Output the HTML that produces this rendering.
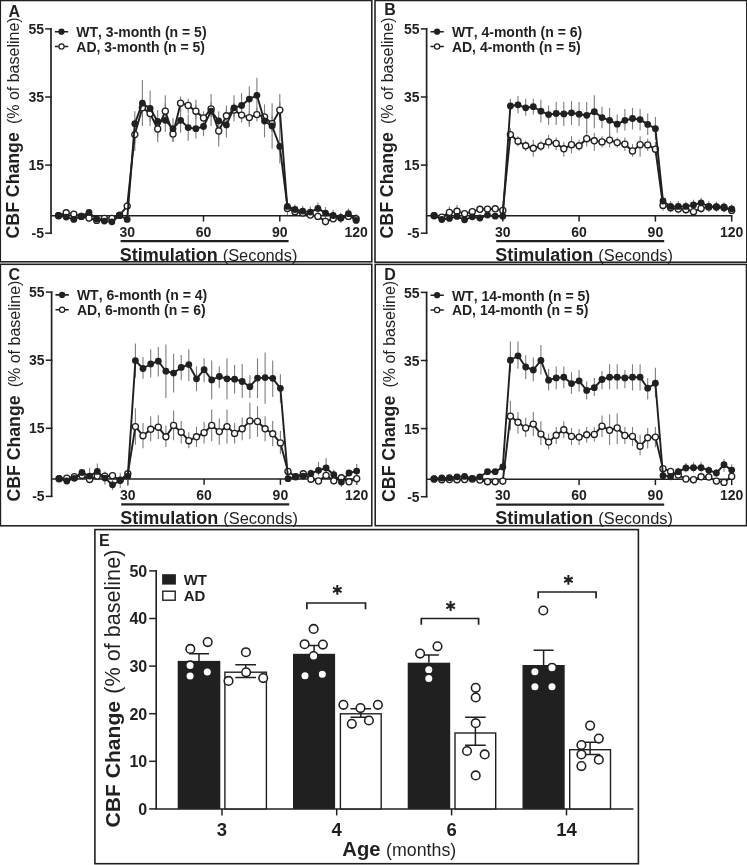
<!DOCTYPE html>
<html><head><meta charset="utf-8"><title>Figure</title>
<style>
html,body{margin:0;padding:0;background:#fff;}
body{width:747px;height:865px;overflow:hidden;}
svg{display:block;font-family:"Liberation Sans",sans-serif;fill:#231f20;font-kerning:none;filter:grayscale(1);}
</style></head><body>
<svg width="747" height="865" viewBox="0 0 747 865">
<rect width="747" height="865" fill="#fff"/>
<g transform="translate(0,0)">
<rect x="0.3" y="0.5" width="371.5" height="261.3" fill="#fff" stroke="#231f20" stroke-width="1.55"/>
<text x="8.5" y="17" font-size="16" font-weight="bold">A</text>
<text transform="translate(19.2,238.4) rotate(-90)" font-size="17.7" font-weight="bold">CBF Change</text>
<text transform="translate(19.2,124.1) rotate(-90)" font-size="16">(% of baseline)</text>
<path d="M51 28.3V233.9" stroke="#231f20" stroke-width="1.7" fill="none"/>
<path d="M45.2 28.9H51.8" stroke="#231f20" stroke-width="1.5"/>
<text x="44" y="34.0" font-size="14" font-weight="bold" text-anchor="end">55</text>
<path d="M45.2 97.0H51.8" stroke="#231f20" stroke-width="1.5"/>
<text x="44" y="102.1" font-size="14" font-weight="bold" text-anchor="end">35</text>
<path d="M45.2 165.1H51.8" stroke="#231f20" stroke-width="1.5"/>
<text x="44" y="170.2" font-size="14" font-weight="bold" text-anchor="end">15</text>
<path d="M45.2 233.2H51.8" stroke="#231f20" stroke-width="1.5"/>
<text x="44" y="238.3" font-size="14" font-weight="bold" text-anchor="end">-5</text>
<path d="M51 215.8H356.9" stroke="#231f20" stroke-width="1.6"/>
<path d="M127.2 215.8V221.6" stroke="#231f20" stroke-width="1.5"/>
<text x="127.2" y="236.5" font-size="14" font-weight="bold" text-anchor="middle">30</text>
<path d="M203.5 215.8V221.6" stroke="#231f20" stroke-width="1.5"/>
<text x="203.5" y="236.5" font-size="14" font-weight="bold" text-anchor="middle">60</text>
<path d="M279.8 215.8V221.6" stroke="#231f20" stroke-width="1.5"/>
<text x="279.8" y="236.5" font-size="14" font-weight="bold" text-anchor="middle">90</text>
<path d="M356.1 215.8V221.6" stroke="#231f20" stroke-width="1.5"/>
<text x="356.1" y="236.5" font-size="14" font-weight="bold" text-anchor="middle">120</text>
<path d="M120.6 241.2H288.6" stroke="#231f20" stroke-width="2.2"/>
<text x="119.7" y="260.5" font-size="16.4"><tspan font-weight="bold" font-size="18">Stimulation </tspan>(Seconds)</text>
<path d="M134.8 111.2V151.0" stroke="#7d7d7d" stroke-width="1.1"/>
<path d="M142.4 80.0V126.0" stroke="#7d7d7d" stroke-width="1.1"/>
<path d="M150.1 90.7V126.0" stroke="#7d7d7d" stroke-width="1.1"/>
<path d="M157.7 110.1V141.9" stroke="#7d7d7d" stroke-width="1.1"/>
<path d="M165.3 95.3V131.7" stroke="#7d7d7d" stroke-width="1.1"/>
<path d="M173.0 118.0V141.9" stroke="#7d7d7d" stroke-width="1.1"/>
<path d="M180.6 108.9V132.8" stroke="#7d7d7d" stroke-width="1.1"/>
<path d="M188.2 114.6V140.8" stroke="#7d7d7d" stroke-width="1.1"/>
<path d="M195.9 99.8V138.5" stroke="#7d7d7d" stroke-width="1.1"/>
<path d="M203.5 113.5V136.2" stroke="#7d7d7d" stroke-width="1.1"/>
<path d="M211.1 94.1V126.0" stroke="#7d7d7d" stroke-width="1.1"/>
<path d="M218.7 111.2V146.5" stroke="#7d7d7d" stroke-width="1.1"/>
<path d="M226.4 105.5V137.4" stroke="#7d7d7d" stroke-width="1.1"/>
<path d="M234.0 95.3V121.4" stroke="#7d7d7d" stroke-width="1.1"/>
<path d="M241.6 93.0V119.2" stroke="#7d7d7d" stroke-width="1.1"/>
<path d="M249.3 86.2V127.1" stroke="#7d7d7d" stroke-width="1.1"/>
<path d="M256.9 77.8V113.5" stroke="#7d7d7d" stroke-width="1.1"/>
<path d="M264.5 104.4V137.4" stroke="#7d7d7d" stroke-width="1.1"/>
<path d="M272.1 103.2V148.8" stroke="#7d7d7d" stroke-width="1.1"/>
<path d="M279.8 94.1V163.6" stroke="#7d7d7d" stroke-width="1.1"/>
<path d="M134.8 126.0V144.2" stroke="#7d7d7d" stroke-width="1.1"/>
<path d="M142.4 98.7V116.9" stroke="#7d7d7d" stroke-width="1.1"/>
<path d="M150.1 105.5V121.4" stroke="#7d7d7d" stroke-width="1.1"/>
<path d="M157.7 121.4V137.4" stroke="#7d7d7d" stroke-width="1.1"/>
<path d="M165.3 103.2V119.2" stroke="#7d7d7d" stroke-width="1.1"/>
<path d="M173.0 126.0V141.9" stroke="#7d7d7d" stroke-width="1.1"/>
<path d="M180.6 96.4V111.2" stroke="#7d7d7d" stroke-width="1.1"/>
<path d="M188.2 98.7V113.5" stroke="#7d7d7d" stroke-width="1.1"/>
<path d="M195.9 104.4V119.2" stroke="#7d7d7d" stroke-width="1.1"/>
<path d="M203.5 111.2V126.0" stroke="#7d7d7d" stroke-width="1.1"/>
<path d="M211.1 102.1V116.9" stroke="#7d7d7d" stroke-width="1.1"/>
<path d="M218.7 122.6V139.7" stroke="#7d7d7d" stroke-width="1.1"/>
<path d="M226.4 108.9V123.7" stroke="#7d7d7d" stroke-width="1.1"/>
<path d="M234.0 103.2V116.9" stroke="#7d7d7d" stroke-width="1.1"/>
<path d="M241.6 107.8V122.6" stroke="#7d7d7d" stroke-width="1.1"/>
<path d="M249.3 111.2V124.9" stroke="#7d7d7d" stroke-width="1.1"/>
<path d="M256.9 107.8V121.4" stroke="#7d7d7d" stroke-width="1.1"/>
<path d="M264.5 110.1V124.9" stroke="#7d7d7d" stroke-width="1.1"/>
<path d="M272.1 115.8V131.7" stroke="#7d7d7d" stroke-width="1.1"/>
<path d="M279.8 102.1V119.2" stroke="#7d7d7d" stroke-width="1.1"/>
<path d="M287.4 203.0V215.1" stroke="#7d7d7d" stroke-width="1.1"/>
<path d="M295.0 204.4V215.1" stroke="#7d7d7d" stroke-width="1.1"/>
<path d="M302.7 205.7V217.1" stroke="#7d7d7d" stroke-width="1.1"/>
<path d="M310.3 206.4V217.8" stroke="#7d7d7d" stroke-width="1.1"/>
<path d="M317.9 202.4V213.7" stroke="#7d7d7d" stroke-width="1.1"/>
<path d="M325.5 207.0V225.8" stroke="#7d7d7d" stroke-width="1.1"/>
<path d="M333.2 209.7V221.8" stroke="#7d7d7d" stroke-width="1.1"/>
<path d="M340.8 212.4V223.1" stroke="#7d7d7d" stroke-width="1.1"/>
<path d="M348.4 208.4V219.1" stroke="#7d7d7d" stroke-width="1.1"/>
<path d="M356.1 213.7V223.8" stroke="#7d7d7d" stroke-width="1.1"/>
<polyline points="58.5,215.7 66.2,212.8 73.8,214.1 81.4,216.4 89.0,218.0 96.7,220.4 104.3,218.4 111.9,218.4 119.6,215.1 127.2,206.1 134.8,134.6 142.4,107.8 150.1,113.5 157.7,129.0 165.3,111.2 173.0,134.0 180.6,103.2 188.2,105.5 195.9,111.2 203.5,118.0 211.1,108.9 218.7,131.0 226.4,115.8 234.0,110.1 241.6,115.1 249.3,117.6 256.9,114.6 264.5,116.9 272.1,123.7 279.8,110.1 287.4,208.4 295.0,211.7 302.7,213.1 310.3,215.1 317.9,216.4 325.5,221.5 333.2,218.8 340.8,217.8 348.4,216.4 356.1,218.8" fill="none" stroke="#231f20" stroke-width="1.9" stroke-linejoin="round"/>
<circle cx="58.5" cy="215.7" r="3.05" fill="#fff" stroke="#231f20" stroke-width="1.3"/>
<circle cx="66.2" cy="212.8" r="3.05" fill="#fff" stroke="#231f20" stroke-width="1.3"/>
<circle cx="73.8" cy="214.1" r="3.05" fill="#fff" stroke="#231f20" stroke-width="1.3"/>
<circle cx="81.4" cy="216.4" r="3.05" fill="#fff" stroke="#231f20" stroke-width="1.3"/>
<circle cx="89.0" cy="218.0" r="3.05" fill="#fff" stroke="#231f20" stroke-width="1.3"/>
<circle cx="96.7" cy="220.4" r="3.05" fill="#fff" stroke="#231f20" stroke-width="1.3"/>
<circle cx="104.3" cy="218.4" r="3.05" fill="#fff" stroke="#231f20" stroke-width="1.3"/>
<circle cx="111.9" cy="218.4" r="3.05" fill="#fff" stroke="#231f20" stroke-width="1.3"/>
<circle cx="119.6" cy="215.1" r="3.05" fill="#fff" stroke="#231f20" stroke-width="1.3"/>
<circle cx="127.2" cy="206.1" r="3.05" fill="#fff" stroke="#231f20" stroke-width="1.3"/>
<circle cx="134.8" cy="134.6" r="3.05" fill="#fff" stroke="#231f20" stroke-width="1.3"/>
<circle cx="142.4" cy="107.8" r="3.05" fill="#fff" stroke="#231f20" stroke-width="1.3"/>
<circle cx="150.1" cy="113.5" r="3.05" fill="#fff" stroke="#231f20" stroke-width="1.3"/>
<circle cx="157.7" cy="129.0" r="3.05" fill="#fff" stroke="#231f20" stroke-width="1.3"/>
<circle cx="165.3" cy="111.2" r="3.05" fill="#fff" stroke="#231f20" stroke-width="1.3"/>
<circle cx="173.0" cy="134.0" r="3.05" fill="#fff" stroke="#231f20" stroke-width="1.3"/>
<circle cx="180.6" cy="103.2" r="3.05" fill="#fff" stroke="#231f20" stroke-width="1.3"/>
<circle cx="188.2" cy="105.5" r="3.05" fill="#fff" stroke="#231f20" stroke-width="1.3"/>
<circle cx="195.9" cy="111.2" r="3.05" fill="#fff" stroke="#231f20" stroke-width="1.3"/>
<circle cx="203.5" cy="118.0" r="3.05" fill="#fff" stroke="#231f20" stroke-width="1.3"/>
<circle cx="211.1" cy="108.9" r="3.05" fill="#fff" stroke="#231f20" stroke-width="1.3"/>
<circle cx="218.7" cy="131.0" r="3.05" fill="#fff" stroke="#231f20" stroke-width="1.3"/>
<circle cx="226.4" cy="115.8" r="3.05" fill="#fff" stroke="#231f20" stroke-width="1.3"/>
<circle cx="234.0" cy="110.1" r="3.05" fill="#fff" stroke="#231f20" stroke-width="1.3"/>
<circle cx="241.6" cy="115.1" r="3.05" fill="#fff" stroke="#231f20" stroke-width="1.3"/>
<circle cx="249.3" cy="117.6" r="3.05" fill="#fff" stroke="#231f20" stroke-width="1.3"/>
<circle cx="256.9" cy="114.6" r="3.05" fill="#fff" stroke="#231f20" stroke-width="1.3"/>
<circle cx="264.5" cy="116.9" r="3.05" fill="#fff" stroke="#231f20" stroke-width="1.3"/>
<circle cx="272.1" cy="123.7" r="3.05" fill="#fff" stroke="#231f20" stroke-width="1.3"/>
<circle cx="279.8" cy="110.1" r="3.05" fill="#fff" stroke="#231f20" stroke-width="1.3"/>
<circle cx="287.4" cy="208.4" r="3.05" fill="#fff" stroke="#231f20" stroke-width="1.3"/>
<circle cx="295.0" cy="211.7" r="3.05" fill="#fff" stroke="#231f20" stroke-width="1.3"/>
<circle cx="302.7" cy="213.1" r="3.05" fill="#fff" stroke="#231f20" stroke-width="1.3"/>
<circle cx="310.3" cy="215.1" r="3.05" fill="#fff" stroke="#231f20" stroke-width="1.3"/>
<circle cx="317.9" cy="216.4" r="3.05" fill="#fff" stroke="#231f20" stroke-width="1.3"/>
<circle cx="325.5" cy="221.5" r="3.05" fill="#fff" stroke="#231f20" stroke-width="1.3"/>
<circle cx="333.2" cy="218.8" r="3.05" fill="#fff" stroke="#231f20" stroke-width="1.3"/>
<circle cx="340.8" cy="217.8" r="3.05" fill="#fff" stroke="#231f20" stroke-width="1.3"/>
<circle cx="348.4" cy="216.4" r="3.05" fill="#fff" stroke="#231f20" stroke-width="1.3"/>
<circle cx="356.1" cy="218.8" r="3.05" fill="#fff" stroke="#231f20" stroke-width="1.3"/>
<polyline points="58.5,215.5 66.2,217.1 73.8,219.4 81.4,216.2 89.0,212.4 96.7,219.1 104.3,221.1 111.9,221.8 119.6,215.7 127.2,219.4 134.8,123.7 142.4,103.2 150.1,108.5 157.7,121.4 165.3,120.3 173.0,128.7 180.6,120.3 188.2,127.6 195.9,128.7 203.5,126.5 211.1,111.2 218.7,120.8 226.4,124.9 234.0,107.8 241.6,105.5 249.3,99.1 256.9,95.3 264.5,121.0 272.1,126.0 279.8,146.5 287.4,206.4 295.0,209.5 302.7,211.1 310.3,212.1 317.9,208.4 325.5,213.1 333.2,215.5 340.8,218.0 348.4,213.7 356.1,220.4" fill="none" stroke="#231f20" stroke-width="1.9" stroke-linejoin="round"/>
<circle cx="58.5" cy="215.5" r="3.4" fill="#231f20"/>
<circle cx="66.2" cy="217.1" r="3.4" fill="#231f20"/>
<circle cx="73.8" cy="219.4" r="3.4" fill="#231f20"/>
<circle cx="81.4" cy="216.2" r="3.4" fill="#231f20"/>
<circle cx="89.0" cy="212.4" r="3.4" fill="#231f20"/>
<circle cx="96.7" cy="219.1" r="3.4" fill="#231f20"/>
<circle cx="104.3" cy="221.1" r="3.4" fill="#231f20"/>
<circle cx="111.9" cy="221.8" r="3.4" fill="#231f20"/>
<circle cx="119.6" cy="215.7" r="3.4" fill="#231f20"/>
<circle cx="127.2" cy="219.4" r="3.4" fill="#231f20"/>
<circle cx="134.8" cy="123.7" r="3.4" fill="#231f20"/>
<circle cx="142.4" cy="103.2" r="3.4" fill="#231f20"/>
<circle cx="150.1" cy="108.5" r="3.4" fill="#231f20"/>
<circle cx="157.7" cy="121.4" r="3.4" fill="#231f20"/>
<circle cx="165.3" cy="120.3" r="3.4" fill="#231f20"/>
<circle cx="173.0" cy="128.7" r="3.4" fill="#231f20"/>
<circle cx="180.6" cy="120.3" r="3.4" fill="#231f20"/>
<circle cx="188.2" cy="127.6" r="3.4" fill="#231f20"/>
<circle cx="195.9" cy="128.7" r="3.4" fill="#231f20"/>
<circle cx="203.5" cy="126.5" r="3.4" fill="#231f20"/>
<circle cx="211.1" cy="111.2" r="3.4" fill="#231f20"/>
<circle cx="218.7" cy="120.8" r="3.4" fill="#231f20"/>
<circle cx="226.4" cy="124.9" r="3.4" fill="#231f20"/>
<circle cx="234.0" cy="107.8" r="3.4" fill="#231f20"/>
<circle cx="241.6" cy="105.5" r="3.4" fill="#231f20"/>
<circle cx="249.3" cy="99.1" r="3.4" fill="#231f20"/>
<circle cx="256.9" cy="95.3" r="3.4" fill="#231f20"/>
<circle cx="264.5" cy="121.0" r="3.4" fill="#231f20"/>
<circle cx="272.1" cy="126.0" r="3.4" fill="#231f20"/>
<circle cx="279.8" cy="146.5" r="3.4" fill="#231f20"/>
<circle cx="287.4" cy="206.4" r="3.4" fill="#231f20"/>
<circle cx="295.0" cy="209.5" r="3.4" fill="#231f20"/>
<circle cx="302.7" cy="211.1" r="3.4" fill="#231f20"/>
<circle cx="310.3" cy="212.1" r="3.4" fill="#231f20"/>
<circle cx="317.9" cy="208.4" r="3.4" fill="#231f20"/>
<circle cx="325.5" cy="213.1" r="3.4" fill="#231f20"/>
<circle cx="333.2" cy="215.5" r="3.4" fill="#231f20"/>
<circle cx="340.8" cy="218.0" r="3.4" fill="#231f20"/>
<circle cx="348.4" cy="213.7" r="3.4" fill="#231f20"/>
<circle cx="356.1" cy="220.4" r="3.4" fill="#231f20"/>
<path d="M54.9 31.7H68.2M54.9 46.5H68.2" stroke="#231f20" stroke-width="1.6"/>
<circle cx="61.5" cy="31.7" r="3.1" fill="#231f20"/>
<circle cx="61.5" cy="46.5" r="2.6" fill="#fff" stroke="#231f20" stroke-width="1.2"/>
<text x="76.3" y="37.3" font-size="14" font-weight="bold">WT, 3-month (n = 5)</text>
<text x="76.3" y="51.6" font-size="14" font-weight="bold">AD, 3-month (n = 5)</text>
</g>
<g transform="translate(375.6,0)">
<rect x="-0.6" y="0.5" width="371.8" height="261.7" fill="#fff" stroke="#231f20" stroke-width="1.55"/>
<text x="8.6" y="15.4" font-size="16" font-weight="bold">B</text>
<text transform="translate(17.599999999999998,238.4) rotate(-90)" font-size="17.7" font-weight="bold">CBF Change</text>
<text transform="translate(17.599999999999998,124.1) rotate(-90)" font-size="16">(% of baseline)</text>
<path d="M51 28.3V233.9" stroke="#231f20" stroke-width="1.7" fill="none"/>
<path d="M45.2 28.9H51.8" stroke="#231f20" stroke-width="1.5"/>
<text x="44" y="34.0" font-size="14" font-weight="bold" text-anchor="end">55</text>
<path d="M45.2 97.0H51.8" stroke="#231f20" stroke-width="1.5"/>
<text x="44" y="102.1" font-size="14" font-weight="bold" text-anchor="end">35</text>
<path d="M45.2 165.1H51.8" stroke="#231f20" stroke-width="1.5"/>
<text x="44" y="170.2" font-size="14" font-weight="bold" text-anchor="end">15</text>
<path d="M45.2 233.2H51.8" stroke="#231f20" stroke-width="1.5"/>
<text x="44" y="238.3" font-size="14" font-weight="bold" text-anchor="end">-5</text>
<path d="M51 215.8H356.9" stroke="#231f20" stroke-width="1.6"/>
<path d="M127.2 215.8V221.6" stroke="#231f20" stroke-width="1.5"/>
<text x="127.2" y="236.5" font-size="14" font-weight="bold" text-anchor="middle">30</text>
<path d="M203.5 215.8V221.6" stroke="#231f20" stroke-width="1.5"/>
<text x="203.5" y="236.5" font-size="14" font-weight="bold" text-anchor="middle">60</text>
<path d="M279.8 215.8V221.6" stroke="#231f20" stroke-width="1.5"/>
<text x="279.8" y="236.5" font-size="14" font-weight="bold" text-anchor="middle">90</text>
<path d="M356.1 215.8V221.6" stroke="#231f20" stroke-width="1.5"/>
<text x="356.1" y="236.5" font-size="14" font-weight="bold" text-anchor="middle">120</text>
<path d="M120.6 241.2H288.6" stroke="#231f20" stroke-width="2.2"/>
<text x="119.7" y="260.5" font-size="16.4"><tspan font-weight="bold" font-size="18">Stimulation </tspan>(Seconds)</text>
<path d="M134.8 98.7V113.5" stroke="#7d7d7d" stroke-width="1.1"/>
<path d="M142.4 96.0V113.5" stroke="#7d7d7d" stroke-width="1.1"/>
<path d="M150.1 98.7V115.8" stroke="#7d7d7d" stroke-width="1.1"/>
<path d="M157.7 98.7V114.6" stroke="#7d7d7d" stroke-width="1.1"/>
<path d="M165.3 99.8V122.6" stroke="#7d7d7d" stroke-width="1.1"/>
<path d="M173.0 105.5V124.9" stroke="#7d7d7d" stroke-width="1.1"/>
<path d="M180.6 102.1V124.9" stroke="#7d7d7d" stroke-width="1.1"/>
<path d="M188.2 102.1V126.0" stroke="#7d7d7d" stroke-width="1.1"/>
<path d="M195.9 101.0V124.9" stroke="#7d7d7d" stroke-width="1.1"/>
<path d="M203.5 102.1V126.0" stroke="#7d7d7d" stroke-width="1.1"/>
<path d="M211.1 102.1V132.8" stroke="#7d7d7d" stroke-width="1.1"/>
<path d="M218.7 95.3V128.3" stroke="#7d7d7d" stroke-width="1.1"/>
<path d="M226.4 106.7V128.3" stroke="#7d7d7d" stroke-width="1.1"/>
<path d="M234.0 107.8V137.4" stroke="#7d7d7d" stroke-width="1.1"/>
<path d="M241.6 114.6V132.8" stroke="#7d7d7d" stroke-width="1.1"/>
<path d="M249.3 108.9V130.6" stroke="#7d7d7d" stroke-width="1.1"/>
<path d="M256.9 107.8V129.4" stroke="#7d7d7d" stroke-width="1.1"/>
<path d="M264.5 108.9V130.6" stroke="#7d7d7d" stroke-width="1.1"/>
<path d="M272.1 113.5V135.1" stroke="#7d7d7d" stroke-width="1.1"/>
<path d="M279.8 116.9V139.7" stroke="#7d7d7d" stroke-width="1.1"/>
<path d="M134.8 128.3V140.8" stroke="#7d7d7d" stroke-width="1.1"/>
<path d="M142.4 136.2V146.5" stroke="#7d7d7d" stroke-width="1.1"/>
<path d="M150.1 140.8V151.0" stroke="#7d7d7d" stroke-width="1.1"/>
<path d="M157.7 139.7V156.7" stroke="#7d7d7d" stroke-width="1.1"/>
<path d="M165.3 140.8V151.0" stroke="#7d7d7d" stroke-width="1.1"/>
<path d="M173.0 135.1V148.8" stroke="#7d7d7d" stroke-width="1.1"/>
<path d="M180.6 137.4V149.9" stroke="#7d7d7d" stroke-width="1.1"/>
<path d="M188.2 141.9V156.7" stroke="#7d7d7d" stroke-width="1.1"/>
<path d="M195.9 136.2V153.3" stroke="#7d7d7d" stroke-width="1.1"/>
<path d="M203.5 139.7V151.0" stroke="#7d7d7d" stroke-width="1.1"/>
<path d="M211.1 130.6V146.5" stroke="#7d7d7d" stroke-width="1.1"/>
<path d="M218.7 132.8V151.0" stroke="#7d7d7d" stroke-width="1.1"/>
<path d="M226.4 136.2V147.6" stroke="#7d7d7d" stroke-width="1.1"/>
<path d="M234.0 132.8V147.6" stroke="#7d7d7d" stroke-width="1.1"/>
<path d="M241.6 137.4V147.6" stroke="#7d7d7d" stroke-width="1.1"/>
<path d="M249.3 137.4V151.0" stroke="#7d7d7d" stroke-width="1.1"/>
<path d="M256.9 144.2V156.7" stroke="#7d7d7d" stroke-width="1.1"/>
<path d="M264.5 136.2V156.7" stroke="#7d7d7d" stroke-width="1.1"/>
<path d="M272.1 138.5V151.0" stroke="#7d7d7d" stroke-width="1.1"/>
<path d="M279.8 141.9V155.6" stroke="#7d7d7d" stroke-width="1.1"/>
<path d="M287.4 197.7V211.1" stroke="#7d7d7d" stroke-width="1.1"/>
<path d="M295.0 201.0V212.4" stroke="#7d7d7d" stroke-width="1.1"/>
<path d="M302.7 201.0V213.7" stroke="#7d7d7d" stroke-width="1.1"/>
<path d="M310.3 201.7V213.7" stroke="#7d7d7d" stroke-width="1.1"/>
<path d="M317.9 199.7V215.1" stroke="#7d7d7d" stroke-width="1.1"/>
<path d="M325.5 197.7V213.1" stroke="#7d7d7d" stroke-width="1.1"/>
<path d="M333.2 201.0V211.7" stroke="#7d7d7d" stroke-width="1.1"/>
<path d="M340.8 201.7V211.7" stroke="#7d7d7d" stroke-width="1.1"/>
<path d="M348.4 202.4V212.4" stroke="#7d7d7d" stroke-width="1.1"/>
<path d="M356.1 204.4V213.7" stroke="#7d7d7d" stroke-width="1.1"/>
<path d="M73.8 206.4V219.8" stroke="#7d7d7d" stroke-width="1.1"/>
<path d="M81.4 205.0V217.8" stroke="#7d7d7d" stroke-width="1.1"/>
<polyline points="58.5,215.7 66.2,217.1 73.8,212.4 81.4,211.3 89.0,213.7 96.7,211.7 104.3,209.3 111.9,209.1 119.6,208.8 127.2,210.4 134.8,134.6 142.4,141.2 150.1,145.8 157.7,148.3 165.3,146.0 173.0,141.9 180.6,143.5 188.2,148.8 195.9,144.7 203.5,145.8 211.1,138.7 218.7,140.8 226.4,141.9 234.0,140.1 241.6,142.6 249.3,144.2 256.9,151.0 264.5,144.7 272.1,144.9 279.8,149.2 287.4,205.4 295.0,207.7 302.7,209.1 310.3,209.7 317.9,211.7 325.5,208.4 333.2,207.0 340.8,207.0 348.4,207.3 356.1,210.4" fill="none" stroke="#231f20" stroke-width="1.9" stroke-linejoin="round"/>
<circle cx="58.5" cy="215.7" r="3.05" fill="#fff" stroke="#231f20" stroke-width="1.3"/>
<circle cx="66.2" cy="217.1" r="3.05" fill="#fff" stroke="#231f20" stroke-width="1.3"/>
<circle cx="73.8" cy="212.4" r="3.05" fill="#fff" stroke="#231f20" stroke-width="1.3"/>
<circle cx="81.4" cy="211.3" r="3.05" fill="#fff" stroke="#231f20" stroke-width="1.3"/>
<circle cx="89.0" cy="213.7" r="3.05" fill="#fff" stroke="#231f20" stroke-width="1.3"/>
<circle cx="96.7" cy="211.7" r="3.05" fill="#fff" stroke="#231f20" stroke-width="1.3"/>
<circle cx="104.3" cy="209.3" r="3.05" fill="#fff" stroke="#231f20" stroke-width="1.3"/>
<circle cx="111.9" cy="209.1" r="3.05" fill="#fff" stroke="#231f20" stroke-width="1.3"/>
<circle cx="119.6" cy="208.8" r="3.05" fill="#fff" stroke="#231f20" stroke-width="1.3"/>
<circle cx="127.2" cy="210.4" r="3.05" fill="#fff" stroke="#231f20" stroke-width="1.3"/>
<circle cx="134.8" cy="134.6" r="3.05" fill="#fff" stroke="#231f20" stroke-width="1.3"/>
<circle cx="142.4" cy="141.2" r="3.05" fill="#fff" stroke="#231f20" stroke-width="1.3"/>
<circle cx="150.1" cy="145.8" r="3.05" fill="#fff" stroke="#231f20" stroke-width="1.3"/>
<circle cx="157.7" cy="148.3" r="3.05" fill="#fff" stroke="#231f20" stroke-width="1.3"/>
<circle cx="165.3" cy="146.0" r="3.05" fill="#fff" stroke="#231f20" stroke-width="1.3"/>
<circle cx="173.0" cy="141.9" r="3.05" fill="#fff" stroke="#231f20" stroke-width="1.3"/>
<circle cx="180.6" cy="143.5" r="3.05" fill="#fff" stroke="#231f20" stroke-width="1.3"/>
<circle cx="188.2" cy="148.8" r="3.05" fill="#fff" stroke="#231f20" stroke-width="1.3"/>
<circle cx="195.9" cy="144.7" r="3.05" fill="#fff" stroke="#231f20" stroke-width="1.3"/>
<circle cx="203.5" cy="145.8" r="3.05" fill="#fff" stroke="#231f20" stroke-width="1.3"/>
<circle cx="211.1" cy="138.7" r="3.05" fill="#fff" stroke="#231f20" stroke-width="1.3"/>
<circle cx="218.7" cy="140.8" r="3.05" fill="#fff" stroke="#231f20" stroke-width="1.3"/>
<circle cx="226.4" cy="141.9" r="3.05" fill="#fff" stroke="#231f20" stroke-width="1.3"/>
<circle cx="234.0" cy="140.1" r="3.05" fill="#fff" stroke="#231f20" stroke-width="1.3"/>
<circle cx="241.6" cy="142.6" r="3.05" fill="#fff" stroke="#231f20" stroke-width="1.3"/>
<circle cx="249.3" cy="144.2" r="3.05" fill="#fff" stroke="#231f20" stroke-width="1.3"/>
<circle cx="256.9" cy="151.0" r="3.05" fill="#fff" stroke="#231f20" stroke-width="1.3"/>
<circle cx="264.5" cy="144.7" r="3.05" fill="#fff" stroke="#231f20" stroke-width="1.3"/>
<circle cx="272.1" cy="144.9" r="3.05" fill="#fff" stroke="#231f20" stroke-width="1.3"/>
<circle cx="279.8" cy="149.2" r="3.05" fill="#fff" stroke="#231f20" stroke-width="1.3"/>
<circle cx="287.4" cy="205.4" r="3.05" fill="#fff" stroke="#231f20" stroke-width="1.3"/>
<circle cx="295.0" cy="207.7" r="3.05" fill="#fff" stroke="#231f20" stroke-width="1.3"/>
<circle cx="302.7" cy="209.1" r="3.05" fill="#fff" stroke="#231f20" stroke-width="1.3"/>
<circle cx="310.3" cy="209.7" r="3.05" fill="#fff" stroke="#231f20" stroke-width="1.3"/>
<circle cx="317.9" cy="211.7" r="3.05" fill="#fff" stroke="#231f20" stroke-width="1.3"/>
<circle cx="325.5" cy="208.4" r="3.05" fill="#fff" stroke="#231f20" stroke-width="1.3"/>
<circle cx="333.2" cy="207.0" r="3.05" fill="#fff" stroke="#231f20" stroke-width="1.3"/>
<circle cx="340.8" cy="207.0" r="3.05" fill="#fff" stroke="#231f20" stroke-width="1.3"/>
<circle cx="348.4" cy="207.3" r="3.05" fill="#fff" stroke="#231f20" stroke-width="1.3"/>
<circle cx="356.1" cy="210.4" r="3.05" fill="#fff" stroke="#231f20" stroke-width="1.3"/>
<polyline points="58.5,215.5 66.2,219.5 73.8,218.4 81.4,216.4 89.0,219.8 96.7,216.8 104.3,218.0 111.9,215.1 119.6,216.2 127.2,216.2 134.8,106.0 142.4,104.8 150.1,107.8 157.7,106.7 165.3,111.2 173.0,114.6 180.6,113.5 188.2,113.9 195.9,112.8 203.5,114.2 211.1,115.3 218.7,111.7 226.4,117.6 234.0,120.3 241.6,124.2 249.3,120.3 256.9,118.5 264.5,119.6 272.1,124.4 279.8,128.7 287.4,201.0 295.0,206.4 302.7,206.4 310.3,206.4 317.9,205.0 325.5,202.8 333.2,206.4 340.8,206.8 348.4,208.1 356.1,208.8" fill="none" stroke="#231f20" stroke-width="1.9" stroke-linejoin="round"/>
<circle cx="58.5" cy="215.5" r="3.4" fill="#231f20"/>
<circle cx="66.2" cy="219.5" r="3.4" fill="#231f20"/>
<circle cx="73.8" cy="218.4" r="3.4" fill="#231f20"/>
<circle cx="81.4" cy="216.4" r="3.4" fill="#231f20"/>
<circle cx="89.0" cy="219.8" r="3.4" fill="#231f20"/>
<circle cx="96.7" cy="216.8" r="3.4" fill="#231f20"/>
<circle cx="104.3" cy="218.0" r="3.4" fill="#231f20"/>
<circle cx="111.9" cy="215.1" r="3.4" fill="#231f20"/>
<circle cx="119.6" cy="216.2" r="3.4" fill="#231f20"/>
<circle cx="127.2" cy="216.2" r="3.4" fill="#231f20"/>
<circle cx="134.8" cy="106.0" r="3.4" fill="#231f20"/>
<circle cx="142.4" cy="104.8" r="3.4" fill="#231f20"/>
<circle cx="150.1" cy="107.8" r="3.4" fill="#231f20"/>
<circle cx="157.7" cy="106.7" r="3.4" fill="#231f20"/>
<circle cx="165.3" cy="111.2" r="3.4" fill="#231f20"/>
<circle cx="173.0" cy="114.6" r="3.4" fill="#231f20"/>
<circle cx="180.6" cy="113.5" r="3.4" fill="#231f20"/>
<circle cx="188.2" cy="113.9" r="3.4" fill="#231f20"/>
<circle cx="195.9" cy="112.8" r="3.4" fill="#231f20"/>
<circle cx="203.5" cy="114.2" r="3.4" fill="#231f20"/>
<circle cx="211.1" cy="115.3" r="3.4" fill="#231f20"/>
<circle cx="218.7" cy="111.7" r="3.4" fill="#231f20"/>
<circle cx="226.4" cy="117.6" r="3.4" fill="#231f20"/>
<circle cx="234.0" cy="120.3" r="3.4" fill="#231f20"/>
<circle cx="241.6" cy="124.2" r="3.4" fill="#231f20"/>
<circle cx="249.3" cy="120.3" r="3.4" fill="#231f20"/>
<circle cx="256.9" cy="118.5" r="3.4" fill="#231f20"/>
<circle cx="264.5" cy="119.6" r="3.4" fill="#231f20"/>
<circle cx="272.1" cy="124.4" r="3.4" fill="#231f20"/>
<circle cx="279.8" cy="128.7" r="3.4" fill="#231f20"/>
<circle cx="287.4" cy="201.0" r="3.4" fill="#231f20"/>
<circle cx="295.0" cy="206.4" r="3.4" fill="#231f20"/>
<circle cx="302.7" cy="206.4" r="3.4" fill="#231f20"/>
<circle cx="310.3" cy="206.4" r="3.4" fill="#231f20"/>
<circle cx="317.9" cy="205.0" r="3.4" fill="#231f20"/>
<circle cx="325.5" cy="202.8" r="3.4" fill="#231f20"/>
<circle cx="333.2" cy="206.4" r="3.4" fill="#231f20"/>
<circle cx="340.8" cy="206.8" r="3.4" fill="#231f20"/>
<circle cx="348.4" cy="208.1" r="3.4" fill="#231f20"/>
<circle cx="356.1" cy="208.8" r="3.4" fill="#231f20"/>
<path d="M54.9 31.7H68.2M54.9 46.5H68.2" stroke="#231f20" stroke-width="1.6"/>
<circle cx="61.5" cy="31.7" r="3.1" fill="#231f20"/>
<circle cx="61.5" cy="46.5" r="2.6" fill="#fff" stroke="#231f20" stroke-width="1.2"/>
<text x="76.3" y="37.3" font-size="14" font-weight="bold">WT, 4-month (n = 6)</text>
<text x="76.3" y="51.6" font-size="14" font-weight="bold">AD, 4-month (n = 5)</text>
</g>
<g transform="translate(0.6,263.2)">
<rect x="-0.2" y="1.1" width="371.4" height="261.5" fill="#fff" stroke="#231f20" stroke-width="1.55"/>
<text x="8" y="17" font-size="16" font-weight="bold">C</text>
<text transform="translate(18.9,238.4) rotate(-90)" font-size="17.7" font-weight="bold">CBF Change</text>
<text transform="translate(18.9,124.1) rotate(-90)" font-size="16">(% of baseline)</text>
<path d="M51 28.3V233.9" stroke="#231f20" stroke-width="1.7" fill="none"/>
<path d="M45.2 28.9H51.8" stroke="#231f20" stroke-width="1.5"/>
<text x="44" y="34.0" font-size="14" font-weight="bold" text-anchor="end">55</text>
<path d="M45.2 97.0H51.8" stroke="#231f20" stroke-width="1.5"/>
<text x="44" y="102.1" font-size="14" font-weight="bold" text-anchor="end">35</text>
<path d="M45.2 165.1H51.8" stroke="#231f20" stroke-width="1.5"/>
<text x="44" y="170.2" font-size="14" font-weight="bold" text-anchor="end">15</text>
<path d="M45.2 233.2H51.8" stroke="#231f20" stroke-width="1.5"/>
<text x="44" y="238.3" font-size="14" font-weight="bold" text-anchor="end">-5</text>
<path d="M51 215.8H356.9" stroke="#231f20" stroke-width="1.6"/>
<path d="M127.2 215.8V221.6" stroke="#231f20" stroke-width="1.5"/>
<text x="127.2" y="236.5" font-size="14" font-weight="bold" text-anchor="middle">30</text>
<path d="M203.5 215.8V221.6" stroke="#231f20" stroke-width="1.5"/>
<text x="203.5" y="236.5" font-size="14" font-weight="bold" text-anchor="middle">60</text>
<path d="M279.8 215.8V221.6" stroke="#231f20" stroke-width="1.5"/>
<text x="279.8" y="236.5" font-size="14" font-weight="bold" text-anchor="middle">90</text>
<path d="M356.1 215.8V221.6" stroke="#231f20" stroke-width="1.5"/>
<text x="356.1" y="236.5" font-size="14" font-weight="bold" text-anchor="middle">120</text>
<path d="M120.6 241.2H288.6" stroke="#231f20" stroke-width="2.2"/>
<text x="119.7" y="260.5" font-size="16.4"><tspan font-weight="bold" font-size="18">Stimulation </tspan>(Seconds)</text>
<path d="M134.8 80.3V114.4" stroke="#7d7d7d" stroke-width="1.1"/>
<path d="M142.4 93.9V115.6" stroke="#7d7d7d" stroke-width="1.1"/>
<path d="M150.1 86.0V114.4" stroke="#7d7d7d" stroke-width="1.1"/>
<path d="M157.7 83.7V113.3" stroke="#7d7d7d" stroke-width="1.1"/>
<path d="M165.3 81.4V134.9" stroke="#7d7d7d" stroke-width="1.1"/>
<path d="M173.0 90.5V129.2" stroke="#7d7d7d" stroke-width="1.1"/>
<path d="M180.6 91.7V116.7" stroke="#7d7d7d" stroke-width="1.1"/>
<path d="M188.2 86.0V117.8" stroke="#7d7d7d" stroke-width="1.1"/>
<path d="M195.9 103.0V128.1" stroke="#7d7d7d" stroke-width="1.1"/>
<path d="M203.5 95.1V119.0" stroke="#7d7d7d" stroke-width="1.1"/>
<path d="M211.1 97.4V136.0" stroke="#7d7d7d" stroke-width="1.1"/>
<path d="M218.7 103.0V124.7" stroke="#7d7d7d" stroke-width="1.1"/>
<path d="M226.4 95.1V136.0" stroke="#7d7d7d" stroke-width="1.1"/>
<path d="M234.0 101.9V130.4" stroke="#7d7d7d" stroke-width="1.1"/>
<path d="M241.6 100.8V134.9" stroke="#7d7d7d" stroke-width="1.1"/>
<path d="M249.3 112.1V134.9" stroke="#7d7d7d" stroke-width="1.1"/>
<path d="M256.9 95.1V134.9" stroke="#7d7d7d" stroke-width="1.1"/>
<path d="M264.5 89.4V140.6" stroke="#7d7d7d" stroke-width="1.1"/>
<path d="M272.1 97.4V133.8" stroke="#7d7d7d" stroke-width="1.1"/>
<path d="M279.8 111.0V139.5" stroke="#7d7d7d" stroke-width="1.1"/>
<path d="M134.8 145.1V181.6" stroke="#7d7d7d" stroke-width="1.1"/>
<path d="M142.4 159.9V185.0" stroke="#7d7d7d" stroke-width="1.1"/>
<path d="M150.1 153.1V178.1" stroke="#7d7d7d" stroke-width="1.1"/>
<path d="M157.7 152.0V175.9" stroke="#7d7d7d" stroke-width="1.1"/>
<path d="M165.3 162.2V183.8" stroke="#7d7d7d" stroke-width="1.1"/>
<path d="M173.0 147.4V177.0" stroke="#7d7d7d" stroke-width="1.1"/>
<path d="M180.6 157.7V180.4" stroke="#7d7d7d" stroke-width="1.1"/>
<path d="M188.2 169.0V185.0" stroke="#7d7d7d" stroke-width="1.1"/>
<path d="M195.9 163.4V183.8" stroke="#7d7d7d" stroke-width="1.1"/>
<path d="M203.5 158.8V180.4" stroke="#7d7d7d" stroke-width="1.1"/>
<path d="M211.1 146.3V178.1" stroke="#7d7d7d" stroke-width="1.1"/>
<path d="M218.7 155.4V181.6" stroke="#7d7d7d" stroke-width="1.1"/>
<path d="M226.4 146.3V180.4" stroke="#7d7d7d" stroke-width="1.1"/>
<path d="M234.0 159.9V180.4" stroke="#7d7d7d" stroke-width="1.1"/>
<path d="M241.6 154.2V177.0" stroke="#7d7d7d" stroke-width="1.1"/>
<path d="M249.3 139.5V175.9" stroke="#7d7d7d" stroke-width="1.1"/>
<path d="M256.9 142.9V173.6" stroke="#7d7d7d" stroke-width="1.1"/>
<path d="M264.5 153.1V178.1" stroke="#7d7d7d" stroke-width="1.1"/>
<path d="M272.1 157.7V182.7" stroke="#7d7d7d" stroke-width="1.1"/>
<path d="M279.8 167.9V190.7" stroke="#7d7d7d" stroke-width="1.1"/>
<path d="M89.0 204.8V220.2" stroke="#7d7d7d" stroke-width="1.1"/>
<path d="M96.7 200.2V216.2" stroke="#7d7d7d" stroke-width="1.1"/>
<path d="M104.3 208.2V221.6" stroke="#7d7d7d" stroke-width="1.1"/>
<path d="M111.9 214.9V226.9" stroke="#7d7d7d" stroke-width="1.1"/>
<path d="M119.6 209.5V224.9" stroke="#7d7d7d" stroke-width="1.1"/>
<path d="M127.2 208.2V222.9" stroke="#7d7d7d" stroke-width="1.1"/>
<path d="M317.9 198.8V212.2" stroke="#7d7d7d" stroke-width="1.1"/>
<path d="M325.5 194.8V209.5" stroke="#7d7d7d" stroke-width="1.1"/>
<path d="M333.2 206.2V216.9" stroke="#7d7d7d" stroke-width="1.1"/>
<path d="M340.8 213.5V223.6" stroke="#7d7d7d" stroke-width="1.1"/>
<path d="M356.1 200.8V220.9" stroke="#7d7d7d" stroke-width="1.1"/>
<path d="M310.3 206.2V214.9" stroke="#7d7d7d" stroke-width="1.1"/>
<polyline points="58.5,215.5 66.2,214.9 73.8,213.5 81.4,212.2 89.0,216.2 96.7,212.9 104.3,212.9 111.9,212.5 119.6,216.9 127.2,210.6 134.8,163.4 142.4,172.5 150.1,166.1 157.7,164.0 165.3,173.6 173.0,162.2 180.6,169.0 188.2,177.5 195.9,173.6 203.5,169.5 211.1,162.2 218.7,168.4 226.4,163.4 234.0,170.2 241.6,165.6 249.3,157.7 256.9,158.3 264.5,165.6 272.1,170.6 279.8,179.7 287.4,208.2 295.0,213.5 302.7,210.6 310.3,216.0 317.9,217.8 325.5,212.2 333.2,217.6 340.8,214.6 348.4,218.6 356.1,215.5" fill="none" stroke="#231f20" stroke-width="1.9" stroke-linejoin="round"/>
<circle cx="58.5" cy="215.5" r="3.05" fill="#fff" stroke="#231f20" stroke-width="1.3"/>
<circle cx="66.2" cy="214.9" r="3.05" fill="#fff" stroke="#231f20" stroke-width="1.3"/>
<circle cx="73.8" cy="213.5" r="3.05" fill="#fff" stroke="#231f20" stroke-width="1.3"/>
<circle cx="81.4" cy="212.2" r="3.05" fill="#fff" stroke="#231f20" stroke-width="1.3"/>
<circle cx="89.0" cy="216.2" r="3.05" fill="#fff" stroke="#231f20" stroke-width="1.3"/>
<circle cx="96.7" cy="212.9" r="3.05" fill="#fff" stroke="#231f20" stroke-width="1.3"/>
<circle cx="104.3" cy="212.9" r="3.05" fill="#fff" stroke="#231f20" stroke-width="1.3"/>
<circle cx="111.9" cy="212.5" r="3.05" fill="#fff" stroke="#231f20" stroke-width="1.3"/>
<circle cx="119.6" cy="216.9" r="3.05" fill="#fff" stroke="#231f20" stroke-width="1.3"/>
<circle cx="127.2" cy="210.6" r="3.05" fill="#fff" stroke="#231f20" stroke-width="1.3"/>
<circle cx="134.8" cy="163.4" r="3.05" fill="#fff" stroke="#231f20" stroke-width="1.3"/>
<circle cx="142.4" cy="172.5" r="3.05" fill="#fff" stroke="#231f20" stroke-width="1.3"/>
<circle cx="150.1" cy="166.1" r="3.05" fill="#fff" stroke="#231f20" stroke-width="1.3"/>
<circle cx="157.7" cy="164.0" r="3.05" fill="#fff" stroke="#231f20" stroke-width="1.3"/>
<circle cx="165.3" cy="173.6" r="3.05" fill="#fff" stroke="#231f20" stroke-width="1.3"/>
<circle cx="173.0" cy="162.2" r="3.05" fill="#fff" stroke="#231f20" stroke-width="1.3"/>
<circle cx="180.6" cy="169.0" r="3.05" fill="#fff" stroke="#231f20" stroke-width="1.3"/>
<circle cx="188.2" cy="177.5" r="3.05" fill="#fff" stroke="#231f20" stroke-width="1.3"/>
<circle cx="195.9" cy="173.6" r="3.05" fill="#fff" stroke="#231f20" stroke-width="1.3"/>
<circle cx="203.5" cy="169.5" r="3.05" fill="#fff" stroke="#231f20" stroke-width="1.3"/>
<circle cx="211.1" cy="162.2" r="3.05" fill="#fff" stroke="#231f20" stroke-width="1.3"/>
<circle cx="218.7" cy="168.4" r="3.05" fill="#fff" stroke="#231f20" stroke-width="1.3"/>
<circle cx="226.4" cy="163.4" r="3.05" fill="#fff" stroke="#231f20" stroke-width="1.3"/>
<circle cx="234.0" cy="170.2" r="3.05" fill="#fff" stroke="#231f20" stroke-width="1.3"/>
<circle cx="241.6" cy="165.6" r="3.05" fill="#fff" stroke="#231f20" stroke-width="1.3"/>
<circle cx="249.3" cy="157.7" r="3.05" fill="#fff" stroke="#231f20" stroke-width="1.3"/>
<circle cx="256.9" cy="158.3" r="3.05" fill="#fff" stroke="#231f20" stroke-width="1.3"/>
<circle cx="264.5" cy="165.6" r="3.05" fill="#fff" stroke="#231f20" stroke-width="1.3"/>
<circle cx="272.1" cy="170.6" r="3.05" fill="#fff" stroke="#231f20" stroke-width="1.3"/>
<circle cx="279.8" cy="179.7" r="3.05" fill="#fff" stroke="#231f20" stroke-width="1.3"/>
<circle cx="287.4" cy="208.2" r="3.05" fill="#fff" stroke="#231f20" stroke-width="1.3"/>
<circle cx="295.0" cy="213.5" r="3.05" fill="#fff" stroke="#231f20" stroke-width="1.3"/>
<circle cx="302.7" cy="210.6" r="3.05" fill="#fff" stroke="#231f20" stroke-width="1.3"/>
<circle cx="310.3" cy="216.0" r="3.05" fill="#fff" stroke="#231f20" stroke-width="1.3"/>
<circle cx="317.9" cy="217.8" r="3.05" fill="#fff" stroke="#231f20" stroke-width="1.3"/>
<circle cx="325.5" cy="212.2" r="3.05" fill="#fff" stroke="#231f20" stroke-width="1.3"/>
<circle cx="333.2" cy="217.6" r="3.05" fill="#fff" stroke="#231f20" stroke-width="1.3"/>
<circle cx="340.8" cy="214.6" r="3.05" fill="#fff" stroke="#231f20" stroke-width="1.3"/>
<circle cx="348.4" cy="218.6" r="3.05" fill="#fff" stroke="#231f20" stroke-width="1.3"/>
<circle cx="356.1" cy="215.5" r="3.05" fill="#fff" stroke="#231f20" stroke-width="1.3"/>
<polyline points="58.5,215.5 66.2,217.8 73.8,215.1 81.4,209.3 89.0,212.9 96.7,208.2 104.3,214.9 111.9,221.6 119.6,217.3 127.2,212.9 134.8,97.4 142.4,105.3 150.1,100.8 157.7,98.0 165.3,108.0 173.0,109.9 180.6,104.2 188.2,101.4 195.9,115.6 203.5,106.5 211.1,116.7 218.7,113.3 226.4,115.6 234.0,116.0 241.6,118.3 249.3,123.5 256.9,114.9 264.5,114.4 272.1,115.1 279.8,125.1 287.4,215.5 295.0,213.5 302.7,212.9 310.3,210.2 317.9,207.1 325.5,204.8 333.2,211.5 340.8,218.9 348.4,209.8 356.1,207.9" fill="none" stroke="#231f20" stroke-width="1.9" stroke-linejoin="round"/>
<circle cx="58.5" cy="215.5" r="3.4" fill="#231f20"/>
<circle cx="66.2" cy="217.8" r="3.4" fill="#231f20"/>
<circle cx="73.8" cy="215.1" r="3.4" fill="#231f20"/>
<circle cx="81.4" cy="209.3" r="3.4" fill="#231f20"/>
<circle cx="89.0" cy="212.9" r="3.4" fill="#231f20"/>
<circle cx="96.7" cy="208.2" r="3.4" fill="#231f20"/>
<circle cx="104.3" cy="214.9" r="3.4" fill="#231f20"/>
<circle cx="111.9" cy="221.6" r="3.4" fill="#231f20"/>
<circle cx="119.6" cy="217.3" r="3.4" fill="#231f20"/>
<circle cx="127.2" cy="212.9" r="3.4" fill="#231f20"/>
<circle cx="134.8" cy="97.4" r="3.4" fill="#231f20"/>
<circle cx="142.4" cy="105.3" r="3.4" fill="#231f20"/>
<circle cx="150.1" cy="100.8" r="3.4" fill="#231f20"/>
<circle cx="157.7" cy="98.0" r="3.4" fill="#231f20"/>
<circle cx="165.3" cy="108.0" r="3.4" fill="#231f20"/>
<circle cx="173.0" cy="109.9" r="3.4" fill="#231f20"/>
<circle cx="180.6" cy="104.2" r="3.4" fill="#231f20"/>
<circle cx="188.2" cy="101.4" r="3.4" fill="#231f20"/>
<circle cx="195.9" cy="115.6" r="3.4" fill="#231f20"/>
<circle cx="203.5" cy="106.5" r="3.4" fill="#231f20"/>
<circle cx="211.1" cy="116.7" r="3.4" fill="#231f20"/>
<circle cx="218.7" cy="113.3" r="3.4" fill="#231f20"/>
<circle cx="226.4" cy="115.6" r="3.4" fill="#231f20"/>
<circle cx="234.0" cy="116.0" r="3.4" fill="#231f20"/>
<circle cx="241.6" cy="118.3" r="3.4" fill="#231f20"/>
<circle cx="249.3" cy="123.5" r="3.4" fill="#231f20"/>
<circle cx="256.9" cy="114.9" r="3.4" fill="#231f20"/>
<circle cx="264.5" cy="114.4" r="3.4" fill="#231f20"/>
<circle cx="272.1" cy="115.1" r="3.4" fill="#231f20"/>
<circle cx="279.8" cy="125.1" r="3.4" fill="#231f20"/>
<circle cx="287.4" cy="215.5" r="3.4" fill="#231f20"/>
<circle cx="295.0" cy="213.5" r="3.4" fill="#231f20"/>
<circle cx="302.7" cy="212.9" r="3.4" fill="#231f20"/>
<circle cx="310.3" cy="210.2" r="3.4" fill="#231f20"/>
<circle cx="317.9" cy="207.1" r="3.4" fill="#231f20"/>
<circle cx="325.5" cy="204.8" r="3.4" fill="#231f20"/>
<circle cx="333.2" cy="211.5" r="3.4" fill="#231f20"/>
<circle cx="340.8" cy="218.9" r="3.4" fill="#231f20"/>
<circle cx="348.4" cy="209.8" r="3.4" fill="#231f20"/>
<circle cx="356.1" cy="207.9" r="3.4" fill="#231f20"/>
<path d="M54.9 31.7H68.2M54.9 46.5H68.2" stroke="#231f20" stroke-width="1.6"/>
<circle cx="61.5" cy="31.7" r="3.1" fill="#231f20"/>
<circle cx="61.5" cy="46.5" r="2.6" fill="#fff" stroke="#231f20" stroke-width="1.2"/>
<text x="76.3" y="37.3" font-size="14" font-weight="bold">WT, 6-month (n = 4)</text>
<text x="76.3" y="51.6" font-size="14" font-weight="bold">AD, 6-month (n = 6)</text>
</g>
<g transform="translate(375.6,263.5)">
<rect x="-0.4" y="0.9" width="371.3" height="261.3" fill="#fff" stroke="#231f20" stroke-width="1.55"/>
<text x="8.6" y="16.4" font-size="16" font-weight="bold">D</text>
<text transform="translate(19.0,238.4) rotate(-90)" font-size="17.7" font-weight="bold">CBF Change</text>
<text transform="translate(19.0,124.1) rotate(-90)" font-size="16">(% of baseline)</text>
<path d="M51 28.3V233.9" stroke="#231f20" stroke-width="1.7" fill="none"/>
<path d="M45.2 28.9H51.8" stroke="#231f20" stroke-width="1.5"/>
<text x="44" y="34.0" font-size="14" font-weight="bold" text-anchor="end">55</text>
<path d="M45.2 97.0H51.8" stroke="#231f20" stroke-width="1.5"/>
<text x="44" y="102.1" font-size="14" font-weight="bold" text-anchor="end">35</text>
<path d="M45.2 165.1H51.8" stroke="#231f20" stroke-width="1.5"/>
<text x="44" y="170.2" font-size="14" font-weight="bold" text-anchor="end">15</text>
<path d="M45.2 233.2H51.8" stroke="#231f20" stroke-width="1.5"/>
<text x="44" y="238.3" font-size="14" font-weight="bold" text-anchor="end">-5</text>
<path d="M51 215.8H356.9" stroke="#231f20" stroke-width="1.6"/>
<path d="M127.2 215.8V221.6" stroke="#231f20" stroke-width="1.5"/>
<text x="127.2" y="236.5" font-size="14" font-weight="bold" text-anchor="middle">30</text>
<path d="M203.5 215.8V221.6" stroke="#231f20" stroke-width="1.5"/>
<text x="203.5" y="236.5" font-size="14" font-weight="bold" text-anchor="middle">60</text>
<path d="M279.8 215.8V221.6" stroke="#231f20" stroke-width="1.5"/>
<text x="279.8" y="236.5" font-size="14" font-weight="bold" text-anchor="middle">90</text>
<path d="M356.1 215.8V221.6" stroke="#231f20" stroke-width="1.5"/>
<text x="356.1" y="236.5" font-size="14" font-weight="bold" text-anchor="middle">120</text>
<path d="M120.6 241.2H288.6" stroke="#231f20" stroke-width="2.2"/>
<text x="119.7" y="260.5" font-size="16.4"><tspan font-weight="bold" font-size="18">Stimulation </tspan>(Seconds)</text>
<path d="M134.8 78.0V108.7" stroke="#7d7d7d" stroke-width="1.1"/>
<path d="M142.4 78.0V105.3" stroke="#7d7d7d" stroke-width="1.1"/>
<path d="M150.1 91.7V115.6" stroke="#7d7d7d" stroke-width="1.1"/>
<path d="M157.7 93.9V117.8" stroke="#7d7d7d" stroke-width="1.1"/>
<path d="M165.3 81.4V111.0" stroke="#7d7d7d" stroke-width="1.1"/>
<path d="M173.0 105.3V126.9" stroke="#7d7d7d" stroke-width="1.1"/>
<path d="M180.6 103.0V125.8" stroke="#7d7d7d" stroke-width="1.1"/>
<path d="M188.2 103.0V124.7" stroke="#7d7d7d" stroke-width="1.1"/>
<path d="M195.9 108.7V130.4" stroke="#7d7d7d" stroke-width="1.1"/>
<path d="M203.5 106.5V128.1" stroke="#7d7d7d" stroke-width="1.1"/>
<path d="M211.1 117.8V136.0" stroke="#7d7d7d" stroke-width="1.1"/>
<path d="M218.7 114.4V132.6" stroke="#7d7d7d" stroke-width="1.1"/>
<path d="M226.4 107.6V125.8" stroke="#7d7d7d" stroke-width="1.1"/>
<path d="M234.0 100.8V125.8" stroke="#7d7d7d" stroke-width="1.1"/>
<path d="M241.6 100.8V125.8" stroke="#7d7d7d" stroke-width="1.1"/>
<path d="M249.3 106.5V124.7" stroke="#7d7d7d" stroke-width="1.1"/>
<path d="M256.9 100.8V126.9" stroke="#7d7d7d" stroke-width="1.1"/>
<path d="M264.5 100.8V126.9" stroke="#7d7d7d" stroke-width="1.1"/>
<path d="M272.1 114.4V136.0" stroke="#7d7d7d" stroke-width="1.1"/>
<path d="M279.8 104.2V133.8" stroke="#7d7d7d" stroke-width="1.1"/>
<path d="M134.8 137.2V166.8" stroke="#7d7d7d" stroke-width="1.1"/>
<path d="M142.4 148.6V170.2" stroke="#7d7d7d" stroke-width="1.1"/>
<path d="M150.1 154.2V173.6" stroke="#7d7d7d" stroke-width="1.1"/>
<path d="M157.7 148.6V172.5" stroke="#7d7d7d" stroke-width="1.1"/>
<path d="M165.3 157.7V181.6" stroke="#7d7d7d" stroke-width="1.1"/>
<path d="M173.0 170.2V186.1" stroke="#7d7d7d" stroke-width="1.1"/>
<path d="M180.6 163.4V180.4" stroke="#7d7d7d" stroke-width="1.1"/>
<path d="M188.2 157.7V174.7" stroke="#7d7d7d" stroke-width="1.1"/>
<path d="M195.9 164.5V181.6" stroke="#7d7d7d" stroke-width="1.1"/>
<path d="M203.5 165.6V181.6" stroke="#7d7d7d" stroke-width="1.1"/>
<path d="M211.1 163.4V179.3" stroke="#7d7d7d" stroke-width="1.1"/>
<path d="M218.7 163.4V178.1" stroke="#7d7d7d" stroke-width="1.1"/>
<path d="M226.4 152.0V173.6" stroke="#7d7d7d" stroke-width="1.1"/>
<path d="M234.0 150.8V181.6" stroke="#7d7d7d" stroke-width="1.1"/>
<path d="M241.6 149.7V180.4" stroke="#7d7d7d" stroke-width="1.1"/>
<path d="M249.3 163.4V180.4" stroke="#7d7d7d" stroke-width="1.1"/>
<path d="M256.9 163.4V182.7" stroke="#7d7d7d" stroke-width="1.1"/>
<path d="M264.5 171.3V191.8" stroke="#7d7d7d" stroke-width="1.1"/>
<path d="M272.1 164.5V185.0" stroke="#7d7d7d" stroke-width="1.1"/>
<path d="M279.8 163.4V183.8" stroke="#7d7d7d" stroke-width="1.1"/>
<path d="M302.7 204.2V214.9" stroke="#7d7d7d" stroke-width="1.1"/>
<path d="M310.3 199.5V208.9" stroke="#7d7d7d" stroke-width="1.1"/>
<path d="M317.9 198.8V208.9" stroke="#7d7d7d" stroke-width="1.1"/>
<path d="M325.5 198.8V208.9" stroke="#7d7d7d" stroke-width="1.1"/>
<path d="M333.2 202.8V210.9" stroke="#7d7d7d" stroke-width="1.1"/>
<path d="M340.8 205.5V212.9" stroke="#7d7d7d" stroke-width="1.1"/>
<path d="M348.4 195.5V208.2" stroke="#7d7d7d" stroke-width="1.1"/>
<path d="M356.1 200.8V212.2" stroke="#7d7d7d" stroke-width="1.1"/>
<path d="M295.0 208.2V216.9" stroke="#7d7d7d" stroke-width="1.1"/>
<polyline points="58.5,215.5 66.2,216.2 73.8,216.0 81.4,216.2 89.0,216.0 96.7,215.5 104.3,216.5 111.9,218.2 119.6,218.2 127.2,217.6 134.8,152.7 142.4,158.8 150.1,164.5 157.7,160.6 165.3,170.6 173.0,178.6 180.6,171.8 188.2,166.3 195.9,172.9 203.5,173.6 211.1,171.3 218.7,170.9 226.4,162.7 234.0,166.8 241.6,164.5 249.3,172.0 256.9,172.9 264.5,182.7 272.1,174.3 279.8,173.6 287.4,205.2 295.0,207.9 302.7,211.5 310.3,215.5 317.9,216.2 325.5,213.3 333.2,213.5 340.8,217.6 348.4,218.9 356.1,212.9" fill="none" stroke="#231f20" stroke-width="1.9" stroke-linejoin="round"/>
<circle cx="58.5" cy="215.5" r="3.05" fill="#fff" stroke="#231f20" stroke-width="1.3"/>
<circle cx="66.2" cy="216.2" r="3.05" fill="#fff" stroke="#231f20" stroke-width="1.3"/>
<circle cx="73.8" cy="216.0" r="3.05" fill="#fff" stroke="#231f20" stroke-width="1.3"/>
<circle cx="81.4" cy="216.2" r="3.05" fill="#fff" stroke="#231f20" stroke-width="1.3"/>
<circle cx="89.0" cy="216.0" r="3.05" fill="#fff" stroke="#231f20" stroke-width="1.3"/>
<circle cx="96.7" cy="215.5" r="3.05" fill="#fff" stroke="#231f20" stroke-width="1.3"/>
<circle cx="104.3" cy="216.5" r="3.05" fill="#fff" stroke="#231f20" stroke-width="1.3"/>
<circle cx="111.9" cy="218.2" r="3.05" fill="#fff" stroke="#231f20" stroke-width="1.3"/>
<circle cx="119.6" cy="218.2" r="3.05" fill="#fff" stroke="#231f20" stroke-width="1.3"/>
<circle cx="127.2" cy="217.6" r="3.05" fill="#fff" stroke="#231f20" stroke-width="1.3"/>
<circle cx="134.8" cy="152.7" r="3.05" fill="#fff" stroke="#231f20" stroke-width="1.3"/>
<circle cx="142.4" cy="158.8" r="3.05" fill="#fff" stroke="#231f20" stroke-width="1.3"/>
<circle cx="150.1" cy="164.5" r="3.05" fill="#fff" stroke="#231f20" stroke-width="1.3"/>
<circle cx="157.7" cy="160.6" r="3.05" fill="#fff" stroke="#231f20" stroke-width="1.3"/>
<circle cx="165.3" cy="170.6" r="3.05" fill="#fff" stroke="#231f20" stroke-width="1.3"/>
<circle cx="173.0" cy="178.6" r="3.05" fill="#fff" stroke="#231f20" stroke-width="1.3"/>
<circle cx="180.6" cy="171.8" r="3.05" fill="#fff" stroke="#231f20" stroke-width="1.3"/>
<circle cx="188.2" cy="166.3" r="3.05" fill="#fff" stroke="#231f20" stroke-width="1.3"/>
<circle cx="195.9" cy="172.9" r="3.05" fill="#fff" stroke="#231f20" stroke-width="1.3"/>
<circle cx="203.5" cy="173.6" r="3.05" fill="#fff" stroke="#231f20" stroke-width="1.3"/>
<circle cx="211.1" cy="171.3" r="3.05" fill="#fff" stroke="#231f20" stroke-width="1.3"/>
<circle cx="218.7" cy="170.9" r="3.05" fill="#fff" stroke="#231f20" stroke-width="1.3"/>
<circle cx="226.4" cy="162.7" r="3.05" fill="#fff" stroke="#231f20" stroke-width="1.3"/>
<circle cx="234.0" cy="166.8" r="3.05" fill="#fff" stroke="#231f20" stroke-width="1.3"/>
<circle cx="241.6" cy="164.5" r="3.05" fill="#fff" stroke="#231f20" stroke-width="1.3"/>
<circle cx="249.3" cy="172.0" r="3.05" fill="#fff" stroke="#231f20" stroke-width="1.3"/>
<circle cx="256.9" cy="172.9" r="3.05" fill="#fff" stroke="#231f20" stroke-width="1.3"/>
<circle cx="264.5" cy="182.7" r="3.05" fill="#fff" stroke="#231f20" stroke-width="1.3"/>
<circle cx="272.1" cy="174.3" r="3.05" fill="#fff" stroke="#231f20" stroke-width="1.3"/>
<circle cx="279.8" cy="173.6" r="3.05" fill="#fff" stroke="#231f20" stroke-width="1.3"/>
<circle cx="287.4" cy="205.2" r="3.05" fill="#fff" stroke="#231f20" stroke-width="1.3"/>
<circle cx="295.0" cy="207.9" r="3.05" fill="#fff" stroke="#231f20" stroke-width="1.3"/>
<circle cx="302.7" cy="211.5" r="3.05" fill="#fff" stroke="#231f20" stroke-width="1.3"/>
<circle cx="310.3" cy="215.5" r="3.05" fill="#fff" stroke="#231f20" stroke-width="1.3"/>
<circle cx="317.9" cy="216.2" r="3.05" fill="#fff" stroke="#231f20" stroke-width="1.3"/>
<circle cx="325.5" cy="213.3" r="3.05" fill="#fff" stroke="#231f20" stroke-width="1.3"/>
<circle cx="333.2" cy="213.5" r="3.05" fill="#fff" stroke="#231f20" stroke-width="1.3"/>
<circle cx="340.8" cy="217.6" r="3.05" fill="#fff" stroke="#231f20" stroke-width="1.3"/>
<circle cx="348.4" cy="218.9" r="3.05" fill="#fff" stroke="#231f20" stroke-width="1.3"/>
<circle cx="356.1" cy="212.9" r="3.05" fill="#fff" stroke="#231f20" stroke-width="1.3"/>
<polyline points="58.5,215.5 66.2,214.5 73.8,214.2 81.4,213.3 89.0,212.9 96.7,214.9 104.3,213.3 111.9,208.2 119.6,208.2 127.2,203.5 134.8,96.7 142.4,92.3 150.1,103.5 157.7,106.5 165.3,96.9 173.0,116.7 180.6,114.4 188.2,113.7 195.9,120.1 203.5,117.4 211.1,126.9 218.7,124.2 226.4,116.0 234.0,113.7 241.6,113.7 249.3,114.4 256.9,113.7 264.5,113.7 272.1,124.7 279.8,119.7 287.4,212.2 295.0,212.9 302.7,208.2 310.3,204.4 317.9,204.2 325.5,204.2 333.2,206.8 340.8,209.5 348.4,201.2 356.1,206.6" fill="none" stroke="#231f20" stroke-width="1.9" stroke-linejoin="round"/>
<circle cx="58.5" cy="215.5" r="3.4" fill="#231f20"/>
<circle cx="66.2" cy="214.5" r="3.4" fill="#231f20"/>
<circle cx="73.8" cy="214.2" r="3.4" fill="#231f20"/>
<circle cx="81.4" cy="213.3" r="3.4" fill="#231f20"/>
<circle cx="89.0" cy="212.9" r="3.4" fill="#231f20"/>
<circle cx="96.7" cy="214.9" r="3.4" fill="#231f20"/>
<circle cx="104.3" cy="213.3" r="3.4" fill="#231f20"/>
<circle cx="111.9" cy="208.2" r="3.4" fill="#231f20"/>
<circle cx="119.6" cy="208.2" r="3.4" fill="#231f20"/>
<circle cx="127.2" cy="203.5" r="3.4" fill="#231f20"/>
<circle cx="134.8" cy="96.7" r="3.4" fill="#231f20"/>
<circle cx="142.4" cy="92.3" r="3.4" fill="#231f20"/>
<circle cx="150.1" cy="103.5" r="3.4" fill="#231f20"/>
<circle cx="157.7" cy="106.5" r="3.4" fill="#231f20"/>
<circle cx="165.3" cy="96.9" r="3.4" fill="#231f20"/>
<circle cx="173.0" cy="116.7" r="3.4" fill="#231f20"/>
<circle cx="180.6" cy="114.4" r="3.4" fill="#231f20"/>
<circle cx="188.2" cy="113.7" r="3.4" fill="#231f20"/>
<circle cx="195.9" cy="120.1" r="3.4" fill="#231f20"/>
<circle cx="203.5" cy="117.4" r="3.4" fill="#231f20"/>
<circle cx="211.1" cy="126.9" r="3.4" fill="#231f20"/>
<circle cx="218.7" cy="124.2" r="3.4" fill="#231f20"/>
<circle cx="226.4" cy="116.0" r="3.4" fill="#231f20"/>
<circle cx="234.0" cy="113.7" r="3.4" fill="#231f20"/>
<circle cx="241.6" cy="113.7" r="3.4" fill="#231f20"/>
<circle cx="249.3" cy="114.4" r="3.4" fill="#231f20"/>
<circle cx="256.9" cy="113.7" r="3.4" fill="#231f20"/>
<circle cx="264.5" cy="113.7" r="3.4" fill="#231f20"/>
<circle cx="272.1" cy="124.7" r="3.4" fill="#231f20"/>
<circle cx="279.8" cy="119.7" r="3.4" fill="#231f20"/>
<circle cx="287.4" cy="212.2" r="3.4" fill="#231f20"/>
<circle cx="295.0" cy="212.9" r="3.4" fill="#231f20"/>
<circle cx="302.7" cy="208.2" r="3.4" fill="#231f20"/>
<circle cx="310.3" cy="204.4" r="3.4" fill="#231f20"/>
<circle cx="317.9" cy="204.2" r="3.4" fill="#231f20"/>
<circle cx="325.5" cy="204.2" r="3.4" fill="#231f20"/>
<circle cx="333.2" cy="206.8" r="3.4" fill="#231f20"/>
<circle cx="340.8" cy="209.5" r="3.4" fill="#231f20"/>
<circle cx="348.4" cy="201.2" r="3.4" fill="#231f20"/>
<circle cx="356.1" cy="206.6" r="3.4" fill="#231f20"/>
<path d="M54.9 31.7H68.2M54.9 46.5H68.2" stroke="#231f20" stroke-width="1.6"/>
<circle cx="61.5" cy="31.7" r="3.1" fill="#231f20"/>
<circle cx="61.5" cy="46.5" r="2.6" fill="#fff" stroke="#231f20" stroke-width="1.2"/>
<text x="76.3" y="37.3" font-size="14" font-weight="bold">WT, 14-month (n = 5)</text>
<text x="76.3" y="51.6" font-size="14" font-weight="bold">AD, 14-month (n = 5)</text>
</g>
<rect x="94.9" y="529.6" width="743.5" height="0" fill="none"/>
<rect x="94.9" y="529.6" width="543.5" height="334.1" fill="#fff" stroke="#231f20" stroke-width="1.6"/>
<text x="99" y="545.6" font-size="16" font-weight="bold">E</text>
<text transform="translate(119.9,827.5) rotate(-90)" font-size="21.1" font-weight="bold">CBF Change</text><text transform="translate(120.3,693.7) rotate(-90)" font-size="21.6">(% of baseline)</text>
<path d="M156.2 570.1V808.9" stroke="#231f20" stroke-width="1.6" fill="none"/>
<path d="M155.4 808.9H633.4" stroke="#231f20" stroke-width="1.5" fill="none"/>
<path d="M149.2 808.9H156.2" stroke="#231f20" stroke-width="1.5"/>
<text x="147.2" y="814.7" font-size="16" font-weight="bold" text-anchor="end">0</text>
<path d="M149.2 761.3H156.2" stroke="#231f20" stroke-width="1.5"/>
<text x="147.2" y="767.1" font-size="16" font-weight="bold" text-anchor="end">10</text>
<path d="M149.2 713.7H156.2" stroke="#231f20" stroke-width="1.5"/>
<text x="147.2" y="719.5" font-size="16" font-weight="bold" text-anchor="end">20</text>
<path d="M149.2 666.1H156.2" stroke="#231f20" stroke-width="1.5"/>
<text x="147.2" y="671.9" font-size="16" font-weight="bold" text-anchor="end">30</text>
<path d="M149.2 618.5H156.2" stroke="#231f20" stroke-width="1.5"/>
<text x="147.2" y="624.3" font-size="16" font-weight="bold" text-anchor="end">40</text>
<path d="M149.2 570.9H156.2" stroke="#231f20" stroke-width="1.5"/>
<text x="147.2" y="576.7" font-size="16" font-weight="bold" text-anchor="end">50</text>
<path d="M222 808.9V815.4" stroke="#231f20" stroke-width="1.5"/>
<text x="222" y="835.5" font-size="18.5" font-weight="bold" text-anchor="middle">3</text>
<path d="M336.7 808.9V815.4" stroke="#231f20" stroke-width="1.5"/>
<text x="336.7" y="835.5" font-size="18.5" font-weight="bold" text-anchor="middle">4</text>
<path d="M451.6 808.9V815.4" stroke="#231f20" stroke-width="1.5"/>
<text x="451.6" y="835.5" font-size="18.5" font-weight="bold" text-anchor="middle">6</text>
<path d="M566.5 808.9V815.4" stroke="#231f20" stroke-width="1.5"/>
<text x="566.5" y="835.5" font-size="18.5" font-weight="bold" text-anchor="middle">14</text>
<text x="342.3" y="856" font-size="17.8"><tspan font-weight="bold" font-size="20.2">Age </tspan>(months)</text>
<rect x="162.1" y="574.2" width="13.8" height="10.4" fill="#231f20"/>
<rect x="162.8" y="591.2" width="12.4" height="9.0" fill="#fff" stroke="#231f20" stroke-width="1.4"/>
<text x="183.7" y="584.8" font-size="15" font-weight="bold">WT</text>
<text x="183.7" y="600.9" font-size="15" font-weight="bold">AD</text>
<rect x="177.7" y="660.9" width="42.6" height="148.0" fill="#231f20"/>
<path d="M199.0 660.9V653.8M189.0 653.8H209.0" stroke="#231f20" stroke-width="1.5" fill="none"/>
<circle cx="190.3" cy="648.9" r="4.3" fill="#fff" stroke="#231f20" stroke-width="1.55"/>
<circle cx="207.7" cy="642.1" r="4.3" fill="#fff" stroke="#231f20" stroke-width="1.55"/>
<circle cx="190.1" cy="665.4" r="4.3" fill="#fff" stroke="#231f20" stroke-width="1.55"/>
<circle cx="207.3" cy="672.0" r="4.3" fill="#fff" stroke="#231f20" stroke-width="1.55"/>
<circle cx="190.1" cy="675.9" r="4.3" fill="#fff" stroke="#231f20" stroke-width="1.55"/>
<rect x="224.9" y="672.2" width="41.5" height="136.7" fill="#fff" stroke="#231f20" stroke-width="1.4"/>
<path d="M245.7 664.7V677.6M235.3 664.7H256.0M235.3 677.6H256.0" stroke="#231f20" stroke-width="1.5" fill="none"/>
<circle cx="245.9" cy="652.2" r="4.3" fill="#fff" stroke="#231f20" stroke-width="1.55"/>
<circle cx="246.1" cy="672.3" r="4.3" fill="#fff" stroke="#231f20" stroke-width="1.55"/>
<circle cx="228.5" cy="680.9" r="4.3" fill="#fff" stroke="#231f20" stroke-width="1.55"/>
<circle cx="263.2" cy="678.1" r="4.3" fill="#fff" stroke="#231f20" stroke-width="1.55"/>
<rect x="293.0" y="653.8" width="42.1" height="155.1" fill="#231f20"/>
<path d="M314.1 653.8V645.6M304.1 645.6H324.1" stroke="#231f20" stroke-width="1.5" fill="none"/>
<circle cx="313.6" cy="628.9" r="4.3" fill="#fff" stroke="#231f20" stroke-width="1.55"/>
<circle cx="304.6" cy="644.2" r="4.3" fill="#fff" stroke="#231f20" stroke-width="1.55"/>
<circle cx="322.9" cy="644.6" r="4.3" fill="#fff" stroke="#231f20" stroke-width="1.55"/>
<circle cx="313.6" cy="656.0" r="4.3" fill="#fff" stroke="#231f20" stroke-width="1.55"/>
<circle cx="305.0" cy="675.7" r="4.3" fill="#fff" stroke="#231f20" stroke-width="1.55"/>
<circle cx="322.3" cy="674.3" r="4.3" fill="#fff" stroke="#231f20" stroke-width="1.55"/>
<rect x="340.4" y="713.8" width="40.8" height="95.1" fill="#fff" stroke="#231f20" stroke-width="1.4"/>
<path d="M360.8 708.8V717.3M350.5 708.8H371.1M350.5 717.3H371.1" stroke="#231f20" stroke-width="1.5" fill="none"/>
<circle cx="343.4" cy="704.8" r="4.3" fill="#fff" stroke="#231f20" stroke-width="1.55"/>
<circle cx="377.9" cy="704.8" r="4.3" fill="#fff" stroke="#231f20" stroke-width="1.55"/>
<circle cx="360.5" cy="708.1" r="4.3" fill="#fff" stroke="#231f20" stroke-width="1.55"/>
<circle cx="351.8" cy="723.8" r="4.3" fill="#fff" stroke="#231f20" stroke-width="1.55"/>
<circle cx="368.9" cy="720.5" r="4.3" fill="#fff" stroke="#231f20" stroke-width="1.55"/>
<rect x="407.7" y="662.7" width="42.5" height="146.2" fill="#231f20"/>
<path d="M428.9 662.7V655.0M418.9 655.0H438.9" stroke="#231f20" stroke-width="1.5" fill="none"/>
<circle cx="437.5" cy="646.3" r="4.3" fill="#fff" stroke="#231f20" stroke-width="1.55"/>
<circle cx="420.1" cy="653.6" r="4.3" fill="#fff" stroke="#231f20" stroke-width="1.55"/>
<circle cx="428.8" cy="669.7" r="4.3" fill="#fff" stroke="#231f20" stroke-width="1.55"/>
<circle cx="428.8" cy="678.4" r="4.3" fill="#fff" stroke="#231f20" stroke-width="1.55"/>
<rect x="455.0" y="733.0" width="40.7" height="75.9" fill="#fff" stroke="#231f20" stroke-width="1.4"/>
<path d="M475.4 717.2V745.3M465.1 717.2H485.7M465.1 745.3H485.7" stroke="#231f20" stroke-width="1.5" fill="none"/>
<circle cx="475.7" cy="687.8" r="4.3" fill="#fff" stroke="#231f20" stroke-width="1.55"/>
<circle cx="475.7" cy="697.5" r="4.3" fill="#fff" stroke="#231f20" stroke-width="1.55"/>
<circle cx="475.7" cy="723.2" r="4.3" fill="#fff" stroke="#231f20" stroke-width="1.55"/>
<circle cx="467.0" cy="751.0" r="4.3" fill="#fff" stroke="#231f20" stroke-width="1.55"/>
<circle cx="484.7" cy="754.4" r="4.3" fill="#fff" stroke="#231f20" stroke-width="1.55"/>
<circle cx="475.7" cy="775.4" r="4.3" fill="#fff" stroke="#231f20" stroke-width="1.55"/>
<rect x="522.5" y="665.0" width="42.2" height="143.9" fill="#231f20"/>
<path d="M543.6 665.0V650.3M533.6 650.3H553.6" stroke="#231f20" stroke-width="1.5" fill="none"/>
<circle cx="543.3" cy="610.5" r="4.3" fill="#fff" stroke="#231f20" stroke-width="1.55"/>
<circle cx="552.0" cy="667.7" r="4.3" fill="#fff" stroke="#231f20" stroke-width="1.55"/>
<circle cx="534.9" cy="671.7" r="4.3" fill="#fff" stroke="#231f20" stroke-width="1.55"/>
<circle cx="534.9" cy="686.8" r="4.3" fill="#fff" stroke="#231f20" stroke-width="1.55"/>
<circle cx="552.0" cy="686.8" r="4.3" fill="#fff" stroke="#231f20" stroke-width="1.55"/>
<rect x="569.7" y="749.7" width="40.8" height="59.2" fill="#fff" stroke="#231f20" stroke-width="1.4"/>
<path d="M590.1 742.3V754.6M579.8 742.3H600.4M579.8 754.6H600.4" stroke="#231f20" stroke-width="1.5" fill="none"/>
<circle cx="590.1" cy="725.6" r="4.3" fill="#fff" stroke="#231f20" stroke-width="1.55"/>
<circle cx="598.8" cy="738.6" r="4.3" fill="#fff" stroke="#231f20" stroke-width="1.55"/>
<circle cx="581.4" cy="745.0" r="4.3" fill="#fff" stroke="#231f20" stroke-width="1.55"/>
<circle cx="581.4" cy="754.4" r="4.3" fill="#fff" stroke="#231f20" stroke-width="1.55"/>
<circle cx="598.8" cy="759.7" r="4.3" fill="#fff" stroke="#231f20" stroke-width="1.55"/>
<circle cx="581.4" cy="766.1" r="4.3" fill="#fff" stroke="#231f20" stroke-width="1.55"/>
<path d="M306.9 609.2V603H365.5V609.2" stroke="#231f20" stroke-width="1.7" fill="none"/>
<path d="M337.3 585.0L337.3 594.8M333.0 587.6L341.6 592.2M333.0 592.2L341.6 587.6" stroke="#231f20" stroke-width="2.0" fill="none"/>
<path d="M421.3 624.7V618.5H478.6V624.7" stroke="#231f20" stroke-width="1.7" fill="none"/>
<path d="M450.6 601.1L450.6 610.9M446.3 603.7L454.9 608.3M446.3 608.3L454.9 603.7" stroke="#231f20" stroke-width="2.0" fill="none"/>
<path d="M538.2 598.2V592.0H596.1V598.2" stroke="#231f20" stroke-width="1.7" fill="none"/>
<path d="M568.4 574.9L568.4 584.7M564.1 577.5L572.7 582.1M564.1 582.1L572.7 577.5" stroke="#231f20" stroke-width="2.0" fill="none"/>
</svg>
</body></html>
